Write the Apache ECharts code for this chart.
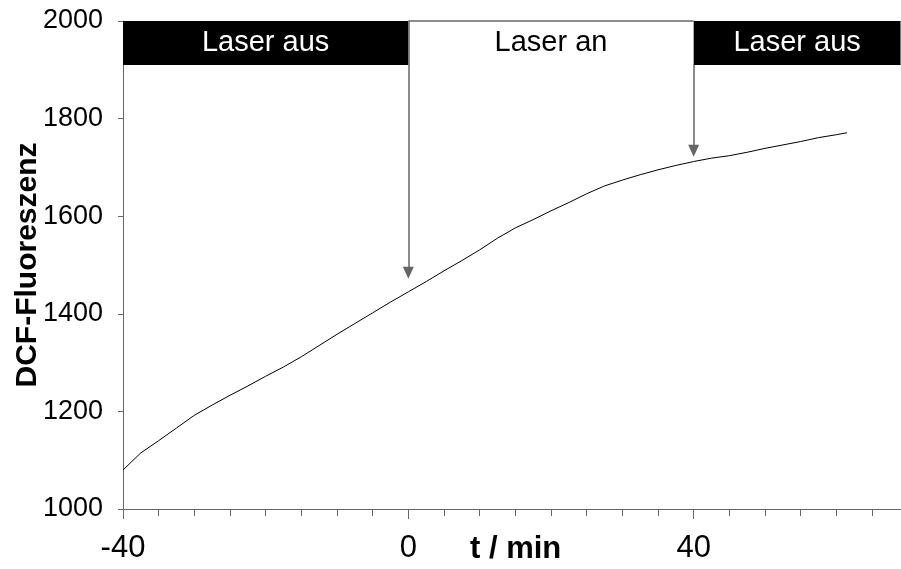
<!DOCTYPE html>
<html>
<head>
<meta charset="utf-8">
<script src="https://cdn.jsdelivr.net/npm/echarts@6/dist/echarts.min.js"></script>
<style>
  html, body { margin: 0; padding: 0; background: #fff; }
  #chart { width: 901px; height: 569px; }
</style>
</head>
<body>
<div id="chart"></div>
<script>
// Data
const times = [-40, -37.5, -35, -32.5, -30, -27.5, -25, -22.5, -20, -17.5, -15, -12.5, -10, -7.5, -5, -2.5,
    0, 2.5, 5, 7.5, 10, 12.5, 15, 17.5, 20, 22.5, 25, 27.5, 30, 32.5, 35, 37.5,
    40, 42.5, 45, 47.5, 50, 52.5, 55, 57.5, 60, 61.5];
const fluorescence = [1080, 1115, 1140, 1166, 1192, 1213, 1233, 1252, 1272, 1291, 1312, 1335, 1358, 1380, 1402, 1424,
    1445, 1466, 1488, 1509, 1531, 1555, 1576, 1593, 1611, 1628, 1646, 1662, 1674, 1685, 1695, 1704,
    1712, 1719, 1724, 1731, 1739, 1746, 1753, 1761, 1767, 1771];

// Laser phases: [start, end, label]
const laserOff1 = [-40, 0, 'Laser aus'];
const laserOn = [0, 40, 'Laser an'];
const laserOff2 = [40, 69, 'Laser aus'];
const phaseBand = [1910, 2000];
const arrowTips = [1484, 1734];

const FONT = '"Liberation Sans", Arial, sans-serif';

const chart = echarts.init(document.getElementById('chart'));

const option = {
    backgroundColor: '#fff',
    animation: false,
    // the x axis runs past the right edge of the picture (cropped figure)
    grid: { left: 123, top: 21, height: 488, width: 856, outerBoundsMode: 'none' },
    xAxis: {
        type: 'value',
        min: -40,
        max: 80,
        interval: 40,
        axisLine: { lineStyle: { color: '#666', width: 1 } },
        axisTick: { length: 10, lineStyle: { color: '#666' } },
        minorTick: { show: true, splitNumber: 8, length: 7, lineStyle: { color: '#666' } },
        splitLine: { show: false },
        axisLabel: { color: '#000', fontFamily: FONT, fontSize: 31, margin: 24 }
    },
    yAxis: {
        type: 'value',
        min: 1000,
        max: 2000,
        interval: 200,
        name: 'DCF-Fluoreszenz',
        nameLocation: 'middle',
        nameRotate: 90,
        nameGap: 80,
        nameMoveOverlap: false,
        nameTextStyle: { color: '#000', fontFamily: FONT, fontSize: 30, fontWeight: 'bold' },
        axisLine: { show: true, onZero: false, lineStyle: { color: '#666', width: 1 } },
        axisTick: { show: true, length: 5, lineStyle: { color: '#666' } },
        splitLine: { show: false },
        axisLabel: { color: '#000', fontFamily: FONT, fontSize: 27, margin: 20, formatter: v => String(v) }
    },
    graphic: [{
        type: 'text',
        left: 470,
        top: 534,
        style: { text: 't / min', font: 'bold 31px ' + FONT, fill: '#000' }
    }],
    series: [{
        type: 'line',
        data: times.map((t, i) => [t, fluorescence[i]]),
        showSymbol: false,
        lineStyle: { color: '#000', width: 1 },
        markArea: {
            silent: true,
            label: { position: 'inside', fontFamily: FONT, fontSize: 29 },
            data: [
                [{ xAxis: laserOff1[0], yAxis: phaseBand[0], itemStyle: { color: '#000' }, label: { color: '#fff' }, name: laserOff1[2] },
                 { xAxis: laserOff1[1], yAxis: phaseBand[1] }],
                [{ xAxis: laserOn[0], yAxis: phaseBand[0], itemStyle: { color: 'rgba(255,255,255,0)' }, label: { color: '#000' }, name: laserOn[2] },
                 { xAxis: laserOn[1], yAxis: phaseBand[1] }],
                [{ xAxis: laserOff2[0], yAxis: phaseBand[0], itemStyle: { color: '#000' }, label: { color: '#fff' }, name: laserOff2[2] },
                 { xAxis: laserOff2[1], yAxis: phaseBand[1] }]
            ]
        },
        markLine: {
            silent: true,
            label: { show: false },
            symbolSize: [11, 12],
            lineStyle: { color: '#666', width: 1.5, type: 'solid' },
            data: [
                [{ coord: [laserOn[0], phaseBand[1]], symbol: 'none' },
                 { coord: [laserOn[1], phaseBand[1]], symbol: 'none' }],
                [{ coord: [laserOn[0], phaseBand[1]], symbol: 'none' },
                 { coord: [laserOn[0], arrowTips[0]], symbol: 'triangle', itemStyle: { color: '#000' } }],
                [{ coord: [laserOn[1], phaseBand[0]], symbol: 'none' },
                 { coord: [laserOn[1], arrowTips[1]], symbol: 'triangle', itemStyle: { color: '#000' } }]
            ]
        }
    }]
};

chart.setOption(option);
</script>
</body>
</html>
